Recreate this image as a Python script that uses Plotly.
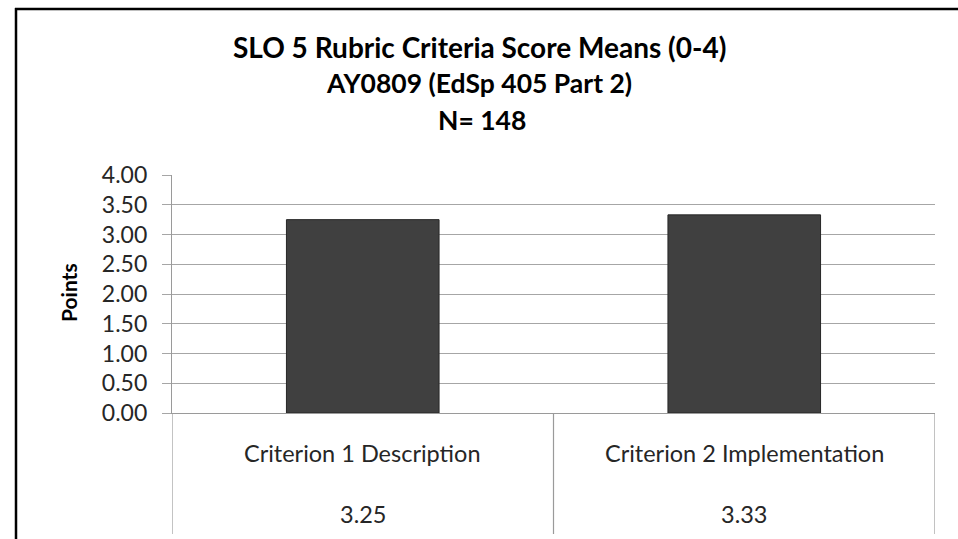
import plotly.graph_objects as go

categories = ["Criterion 1 Description", "Criterion 2 Implementation"]
means = [3.25, 3.33]
value_labels = ["3.25", "3.33"]
y_ticks = [0, 0.5, 1, 1.5, 2, 2.5, 3, 3.5, 4]

title_lines = ["SLO 5 Rubric Criteria Score Means (0-4)", "AY0809 (EdSp 405 Part 2)", "N= 148"]

FONT = "Lato"
W, H = 958, 539
# plot area in page coordinates
L, R, T, B = 172, 935, 175, 413
pw, ph = R - L, B - T

def py(ypix):
    return (B - ypix) / ph

def px(xpix):
    return (xpix - L) / pw

fig = go.Figure()
fig.add_trace(go.Bar(
    x=list(range(len(categories))), y=means,
    width=0.4,
    marker=dict(color="#404040", line=dict(color="#262626", width=1)),
    hoverinfo="skip",
))

annotations = []
annotations.append(dict(text="<b>" + title_lines[0] + "</b>", x=px(479), y=py(47), xref="paper", yref="paper",
                        showarrow=False, font=dict(size=28, color="black", family=FONT), xanchor="center", yanchor="middle"))
annotations.append(dict(text="<b>" + title_lines[1] + "</b>", x=px(479), y=py(83), xref="paper", yref="paper",
                        showarrow=False, font=dict(size=26.5, color="black", family=FONT), xanchor="center", yanchor="middle"))
annotations.append(dict(text="<b>" + title_lines[2] + "</b>", x=px(482), y=py(120), xref="paper", yref="paper",
                        showarrow=False, font=dict(size=26.5, color="black", family=FONT), xanchor="center", yanchor="middle"))
annotations.append(dict(text="<b>Points</b>", x=px(68), y=py(292), xref="paper", yref="paper", textangle=-90,
                        showarrow=False, font=dict(size=21, color="black", family=FONT), xanchor="center", yanchor="middle"))

for i, (c, v) in enumerate(zip(categories, value_labels)):
    annotations.append(dict(text=c, x=i, y=py(453), xref="x", yref="paper", showarrow=False,
                            font=dict(size=23.5, color="#262626", family=FONT), xanchor="center", yanchor="middle"))
    annotations.append(dict(text=v, x=i, y=py(514), xref="x", yref="paper", showarrow=False,
                            font=dict(size=23.5, color="#262626", family=FONT), xanchor="center", yanchor="middle"))

shapes = []
for xb in [-0.5, 0.5, 1.5]:
    shapes.append(dict(type="line", xref="x", yref="paper", x0=xb, x1=xb, y0=0, y1=py(534),
                       line=dict(color="#9a9a9a", width=1.2)))
shapes.append(dict(type="line", xref="paper", yref="paper", x0=px(15), x1=px(970), y0=py(9), y1=py(9),
                   line=dict(color="black", width=2.5)))
shapes.append(dict(type="line", xref="paper", yref="paper", x0=px(16), x1=px(16), y0=py(8), y1=py(560),
                   line=dict(color="black", width=2.5)))

fig.update_layout(
    width=W, height=H,
    margin=dict(l=L, r=W - R, t=T, b=H - B, pad=0),
    paper_bgcolor="white", plot_bgcolor="white",
    showlegend=False,
    xaxis=dict(range=[-0.5, 1.5], showticklabels=False, showgrid=False, zeroline=False,
               showline=True, linecolor="#9a9a9a", linewidth=1.2, ticks=""),
    yaxis=dict(range=[0, 4], tickvals=y_ticks, tickformat=".2f", showgrid=True, gridcolor="#a6a6a6",
               gridwidth=1.2, zeroline=False, showline=True, linecolor="#9a9a9a", linewidth=1.2,
               ticks="outside", ticklen=9, tickcolor="#a6a6a6", ticklabelstandoff=10,
               tickfont=dict(size=23, color="#262626", family=FONT)),
    annotations=annotations,
    shapes=shapes,
)

fig.write_html("out.html", config={"displayModeBar": False},
               post_script="document.body.style.margin='0';document.body.style.overflow='hidden';")
